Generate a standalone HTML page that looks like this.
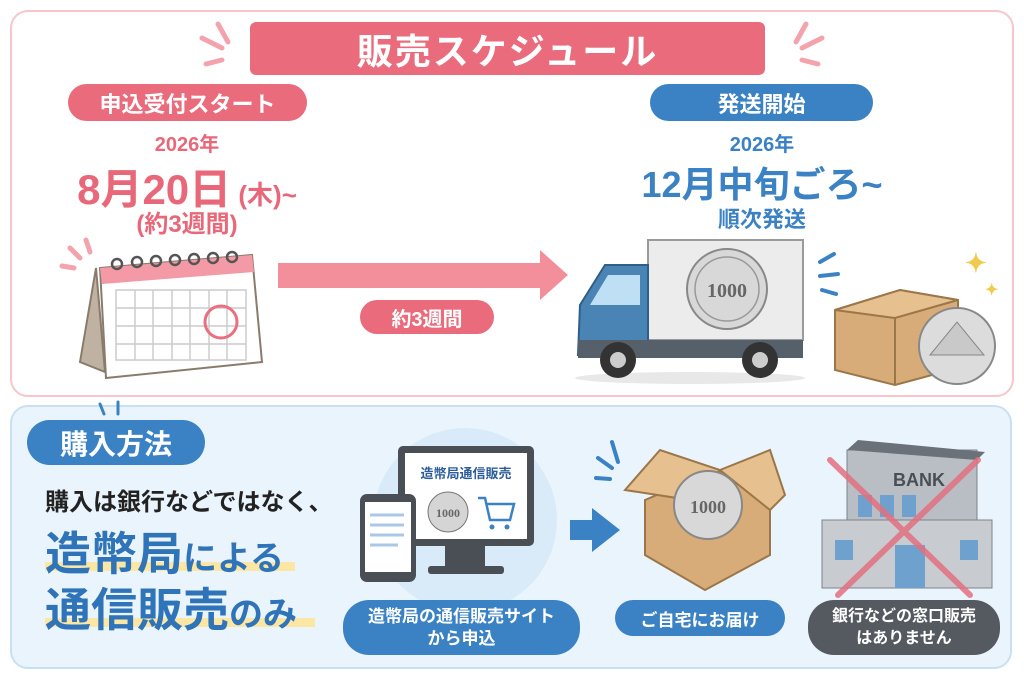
<!DOCTYPE html><html><head><meta charset="utf-8"><style>
body{margin:0;width:1024px;height:683px;background:#fff;position:relative;overflow:hidden;font-family:"Liberation Sans","Noto Sans CJK JP",sans-serif;font-weight:bold}
.a{position:absolute}
.pill{position:absolute;color:#fff;display:flex;align-items:center;justify-content:center;text-align:center;border-radius:22px}
.pk{background:#e96b7c}.bl{background:#3b82c4}
.c{position:absolute;text-align:center;white-space:nowrap}
</style></head><body>
<div class="a" style="left:10px;top:10px;width:1000px;height:383px;border:2px solid #f7c6cb;border-radius:18px"></div>
<div class="a" style="left:10px;top:405px;width:1002px;height:264px;background:#eaf4fc;border:2px solid #c9e0f3;border-radius:18px;box-sizing:border-box"></div>
<div class="pill pk" style="left:250px;top:22px;width:515px;height:53px;border-radius:6px;font-size:36px;letter-spacing:2px">販売スケジュール</div>
<svg class="a" style="left:0;top:0" width="1024" height="683">
<g stroke="#f4a3ad" stroke-width="5" stroke-linecap="round"><line x1="218" y1="24" x2="228" y2="42"/><line x1="202" y1="38" x2="222" y2="48"/><line x1="206" y1="64" x2="222" y2="60"/><line x1="806" y1="24" x2="796" y2="42"/><line x1="822" y1="38" x2="802" y2="48"/><line x1="818" y1="64" x2="802" y2="60"/>
<line x1="86" y1="240" x2="90" y2="252"/><line x1="70" y1="248" x2="80" y2="258"/><line x1="62" y1="266" x2="74" y2="268"/></g>
<polygon points="278,263 540,263 540,250 568,275 540,300 540,288 278,288" fill="#f28f9b"/>
<polygon points="96,268 80,362 105,372" fill="#bfb2a2" stroke="#8a7c6c" stroke-width="2"/>
<polygon points="100,268 252,255 262,362 106,378" fill="#fff" stroke="#8a7c6c" stroke-width="2"/>
<polygon points="100,268 252,255 254,272 102,284" fill="#f39aa6"/>
<g stroke="#ccc" stroke-width="1.5" fill="none"><rect x="116" y="290" width="130" height="70"/><line x1="116" y1="308" x2="246" y2="308"/><line x1="116" y1="326" x2="246" y2="326"/><line x1="116" y1="344" x2="246" y2="344"/><line x1="135" y1="290" x2="135" y2="360"/><line x1="153" y1="290" x2="153" y2="360"/><line x1="172" y1="290" x2="172" y2="360"/><line x1="190" y1="290" x2="190" y2="360"/><line x1="209" y1="290" x2="209" y2="360"/><line x1="227" y1="290" x2="227" y2="360"/></g>
<circle cx="221" cy="322" r="16" fill="none" stroke="#ea6f80" stroke-width="3"/>
<g fill="none" stroke="#555" stroke-width="2.5"><circle cx="117" cy="264" r="5"/><circle cx="137" cy="262" r="5"/><circle cx="156" cy="261" r="5"/><circle cx="175" cy="260" r="5"/><circle cx="194" cy="259" r="5"/><circle cx="213" cy="258" r="5"/><circle cx="232" cy="257" r="5"/></g>
<ellipse cx="690" cy="378" rx="115" ry="6" fill="#e8e8e8"/>
<rect x="648" y="240" width="155" height="100" fill="#ececec" stroke="#9a9a9a" stroke-width="2"/>
<path d="M648,265 L605,265 L580,305 L578,355 L648,355 Z" fill="#4a84b4" stroke="#2f5e86" stroke-width="2"/>
<polygon points="608,275 640,275 640,305 590,305" fill="#bfe0f4"/>
<rect x="578" y="340" width="225" height="18" fill="#56606a"/>
<circle cx="618" cy="360" r="18" fill="#333"/><circle cx="618" cy="360" r="8" fill="#ccc"/>
<circle cx="760" cy="360" r="18" fill="#333"/><circle cx="760" cy="360" r="8" fill="#ccc"/>
<circle cx="727" cy="289" r="40" fill="#d8d8d8" stroke="#888" stroke-width="2"/><circle cx="727" cy="289" r="32" fill="none" stroke="#999" stroke-width="1.5"/>
<text x="727" y="297" font-size="20" text-anchor="middle" fill="#666" font-family="Liberation Serif">1000</text>
<g stroke="#3b82c4" stroke-width="4" stroke-linecap="round"><line x1="820" y1="262" x2="834" y2="254"/><line x1="820" y1="276" x2="838" y2="274"/><line x1="822" y1="290" x2="836" y2="294"/></g>
<text x="965" y="272" font-size="26" fill="#f2c94c">✦</text><text x="985" y="295" font-size="16" fill="#f2c94c">✦</text>
<polygon points="835,310 900,290 958,300 958,368 895,385 835,370" fill="#d7ac78" stroke="#9b7648" stroke-width="2"/>
<polygon points="835,310 900,290 958,300 895,318" fill="#e6c08e" stroke="#9b7648" stroke-width="2"/>
<line x1="895" y1="318" x2="895" y2="385" stroke="#9b7648" stroke-width="2"/>
<circle cx="957" cy="346" r="38" fill="#dcdcdc" stroke="#888" stroke-width="2"/>
<polygon points="930,355 957,322 984,355" fill="#c9c9c9" stroke="#888"/>
<g stroke="#3b82c4" stroke-width="3" stroke-linecap="round"><line x1="100" y1="404" x2="104" y2="414"/><line x1="118" y1="402" x2="118" y2="414"/></g>
<circle cx="465" cy="520" r="92" fill="#d9ebf9"/>
<rect x="398" y="446" width="136" height="100" rx="5" fill="#4a4f55"/>
<rect x="405" y="453" width="122" height="86" fill="#fff"/>
<rect x="445" y="546" width="40" height="22" fill="#4a4f55"/><rect x="428" y="566" width="76" height="8" rx="3" fill="#4a4f55"/>
<text x="466" y="478" font-size="13" text-anchor="middle" fill="#2c5d9a">造幣局通信販売</text>
<circle cx="448" cy="512" r="20" fill="#d5d5d5" stroke="#777"/><text x="448" y="517" font-size="12" text-anchor="middle" fill="#666" font-family="Liberation Serif">1000</text>
<path d="M478,498 L485,498 L490,520 L510,520 L514,504 L487,504" fill="none" stroke="#3b82c4" stroke-width="2.5"/><circle cx="492" cy="527" r="2.5" fill="#3b82c4"/><circle cx="507" cy="527" r="2.5" fill="#3b82c4"/>
<rect x="360" y="494" width="56" height="88" rx="7" fill="#4a4f55"/><rect x="365" y="502" width="46" height="70" fill="#fff"/>
<g stroke="#a9c8e8" stroke-width="3"><line x1="370" y1="515" x2="404" y2="515"/><line x1="370" y1="525" x2="404" y2="525"/><line x1="370" y1="535" x2="404" y2="535"/><line x1="370" y1="545" x2="398" y2="545"/></g>
<polygon points="570,520 592,520 592,508 620,530 592,552 592,540 570,540" fill="#3b82c4"/>
<g stroke="#3b82c4" stroke-width="4" stroke-linecap="round"><line x1="612" y1="442" x2="618" y2="462"/><line x1="598" y1="458" x2="612" y2="468"/><line x1="596" y1="478" x2="610" y2="479"/></g>
<polygon points="645,500 715,470 770,495 770,555 705,590 645,555" fill="#d7ac78" stroke="#9b7648" stroke-width="2"/>
<polygon points="625,490 660,450 720,470 690,500" fill="#e6c08e" stroke="#9b7648" stroke-width="2"/>
<polygon points="720,470 770,450 785,495 770,510" fill="#e6c08e" stroke="#9b7648" stroke-width="2"/>
<circle cx="708" cy="505" r="34" fill="#d8d8d8" stroke="#888" stroke-width="2"/>
<text x="708" y="513" font-size="18" text-anchor="middle" fill="#666" font-family="Liberation Serif">1000</text>
<rect x="847" y="450" width="130" height="110" fill="#b9bec4" stroke="#7d838a"/>
<polygon points="847,450 858,440 985,452 977,460" fill="#6b7178"/>
<text x="893" y="486" font-size="18" fill="#4a4f55">BANK</text>
<rect x="822" y="520" width="170" height="68" fill="#c8ccd1" stroke="#7d838a"/>
<g fill="#6fa1cf"><rect x="858" y="495" width="14" height="22"/><rect x="880" y="495" width="14" height="22"/><rect x="902" y="495" width="14" height="22"/><rect x="835" y="540" width="18" height="20"/><rect x="960" y="540" width="18" height="20"/><rect x="895" y="545" width="30" height="43"/></g>
<g stroke="#e3707f" stroke-width="6" opacity=".85" stroke-linecap="round"><line x1="830" y1="460" x2="970" y2="595"/><line x1="978" y1="460" x2="838" y2="595"/></g>
<rect x="45" y="562" width="250" height="9" fill="#fbe7a3"/><rect x="45" y="618" width="270" height="9" fill="#fbe7a3"/>
</svg>
<div class="pill pk" style="left:68px;top:84px;width:239px;height:37px;font-size:22px">申込受付スタート</div>
<div class="c" style="left:87px;width:200px;top:128px;font-size:20px;color:#e8687a">2026年</div>
<div class="c" style="left:37px;width:300px;top:156px;font-size:42px;color:#e8687a">8月20日<span style="font-size:26px"> (木)~</span></div>
<div class="c" style="left:87px;width:200px;top:204px;font-size:24px;color:#e8687a">(約3週間)</div>
<div class="pill pk" style="left:360px;top:300px;width:134px;height:34px;font-size:20px">約3週間</div>
<div class="pill bl" style="left:650px;top:84px;width:223px;height:37px;font-size:22px">発送開始</div>
<div class="c" style="left:662px;width:200px;top:128px;font-size:20px;color:#3b82c4">2026年</div>
<div class="c" style="left:612px;width:300px;top:156px;font-size:36px;color:#3b82c4">12月中旬ごろ~</div>
<div class="c" style="left:662px;width:200px;top:202px;font-size:22px;color:#3b82c4">順次発送</div>
<div class="pill bl" style="left:27px;top:420px;width:178px;height:45px;font-size:28px;border-radius:24px">購入方法</div>
<div class="a" style="left:45px;top:482px;font-size:24px;color:#222;white-space:nowrap">購入は銀行などではなく、</div>
<div class="a" style="left:45px;top:518px;font-size:46px;color:#2f74b8;white-space:nowrap">造幣局<span style="font-size:34px">による</span></div>
<div class="a" style="left:45px;top:574px;font-size:46px;color:#2f74b8;white-space:nowrap">通信販売<span style="font-size:34px">のみ</span></div>
<div class="pill bl" style="left:343px;top:600px;width:237px;height:55px;font-size:17px;line-height:22px;border-radius:26px">造幣局の通信販売サイト<br>から申込</div>
<div class="pill bl" style="left:615px;top:600px;width:170px;height:36px;font-size:17px">ご自宅にお届け</div>
<div class="pill" style="left:808px;top:600px;width:192px;height:55px;font-size:16px;line-height:22px;background:#555a60;border-radius:26px">銀行などの窓口販売<br>はありません</div>
</body></html>
